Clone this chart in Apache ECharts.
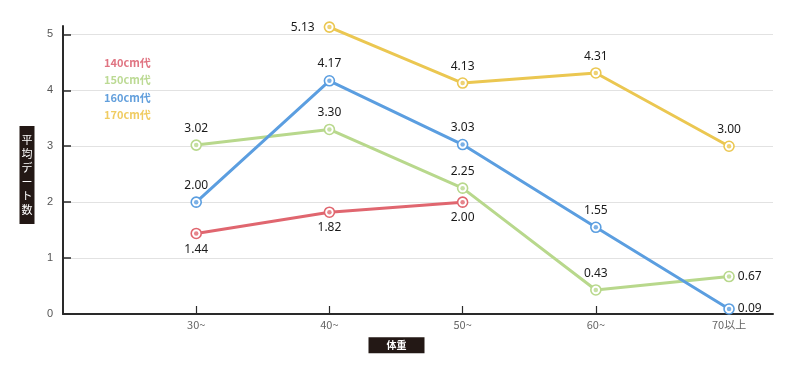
<!DOCTYPE html>
<html>
<head>
<meta charset="utf-8">
<script src="https://cdn.jsdelivr.net/npm/echarts@6/dist/echarts.min.js"></script>
<style>html,body{margin:0;padding:0;background:#fff}#c{width:802px;height:371px}</style>
</head>
<body>
<div id="c"></div>
<script>
const categories = ['30~', '40~', '50~', '60~', '70以上'];
const seriesNames = ['140cm代', '150cm代', '160cm代', '170cm代'];
const h140 = [1.44, 1.82, 2.00, null, null];
const h150 = [3.02, 3.30, 2.25, 0.43, 0.67];
const h160 = [2.00, 4.17, 3.03, 1.55, 0.09];
const h170 = [null, 5.13, 4.13, 4.31, 3.00];
const yTicks = [0, 1, 2, 3, 4, 5];
const yAxisTitle = '平均デート数';
const xAxisTitle = '体重';

const colors = ['#e0666f', '#b8d88c', '#5b9ee0', '#ebc751'];
const legendColors = ['#e07482', '#bcda94', '#629fdc', '#f0cc62'];
const values = [h140, h150, h160, h170];
const xTicks = categories.map((c, i) => i + 1);

function labelPos(si, i, arr) {
  if (si === 0) return { position: 'bottom', distance: 4 };
  const firstIdx = arr.findIndex(v => v != null);
  if (si === 3 && i === firstIdx) return { position: 'left', distance: 9 };
  if ((si === 1 || si === 2) && i === arr.length - 1) return { position: 'right', distance: 3 };
  return { position: 'top', distance: 5 };
}

const series = [];
values.forEach((arr, si) => {
  const data = arr.map((v, i) => {
    if (v == null) return null;
    return { value: [i + 1, v], label: labelPos(si, i, arr) };
  }).filter(d => d);
  series.push({
    name: seriesNames[si],
    type: 'line',
    data: data,
    z: 2,
    symbol: 'circle',
    symbolSize: 10,
    lineStyle: { color: colors[si], width: 3 },
    itemStyle: { color: '#fff', borderColor: colors[si], borderWidth: 1.6, opacity: 1 },
    label: {
      show: true,
      formatter: p => p.value[1].toFixed(2),
      color: '#1a1a1a',
      fontSize: 12,
      fontFamily: 'Noto Sans, sans-serif'
    },
    emphasis: { disabled: true },
    animation: false
  });
  series.push({
    name: seriesNames[si],
    type: 'scatter',
    data: data.map(d => d.value),
    z: 3,
    symbol: 'circle',
    symbolSize: 4.5,
    itemStyle: { color: colors[si] },
    silent: true,
    animation: false
  });
});

const chart = echarts.init(document.getElementById('c'), null, { renderer: 'canvas' });
chart.setOption({
  backgroundColor: '#fff',
  animation: false,
  grid: { left: 63, right: 29, top: 26, bottom: 57, containLabel: false },
  legend: {
    orient: 'vertical',
    left: 99,
    top: 56,
    icon: 'none',
    itemWidth: 0,
    itemHeight: 13,
    itemGap: 5.6,
    padding: 0,
    selectedMode: false,
    data: seriesNames.map((n, i) => ({ name: n, textStyle: { color: legendColors[i] } })),
    textStyle: { fontSize: 11, fontWeight: 'bold', fontFamily: 'Noto Sans CJK JP, sans-serif' }
  },
  xAxis: {
    type: 'value',
    min: 0,
    max: 5.33,
    interval: 1,
    axisLine: { show: true, lineStyle: { color: '#2a2a2a', width: 2 } },
    axisTick: { show: true, inside: true, length: 8, customValues: xTicks, lineStyle: { color: '#2a2a2a', width: 1.2 } },
    axisLabel: {
      customValues: xTicks,
      formatter: v => categories[Math.round(v) - 1] || '',
      color: '#666',
      fontSize: 11,
      margin: 5,
      fontFamily: 'Liberation Sans Narrow, Noto Sans CJK JP, sans-serif'
    },
    splitLine: { show: false }
  },
  yAxis: {
    type: 'value',
    min: 0,
    max: 5.15,
    interval: 1,
    axisLine: { show: true, lineStyle: { color: '#2a2a2a', width: 2 } },
    axisTick: { show: true, inside: true, length: 8, customValues: yTicks, lineStyle: { color: '#2a2a2a', width: 1.5 } },
    axisLabel: {
      customValues: yTicks,
      color: '#555',
      fontSize: 11,
      margin: 10,
      fontFamily: 'Liberation Sans, sans-serif'
    },
    splitLine: { show: true, lineStyle: { color: '#e2e2e2', width: 1 } }
  },
  graphic: [
    {
      type: 'text',
      x: 27, y: 175,
      silent: true,
      style: {
        text: yAxisTitle.split('').join('\n'),
        fill: '#fff',
        fontSize: 11,
        lineHeight: 14,
        align: 'center',
        verticalAlign: 'middle',
        backgroundColor: '#231815',
        padding: [7, 2],
        fontFamily: 'Noto Sans CJK JP, sans-serif'
      }
    },
    {
      type: 'text',
      x: 396.5, y: 345.3,
      silent: true,
      style: {
        text: xAxisTitle,
        fill: '#fff',
        fontSize: 10,
        fontWeight: 'bold',
        lineHeight: 10,
        align: 'center',
        verticalAlign: 'middle',
        backgroundColor: '#231815',
        padding: [3, 18],
        fontFamily: 'Noto Sans CJK JP, sans-serif'
      }
    }
  ],
  series: series
});
</script>
</body>
</html>
